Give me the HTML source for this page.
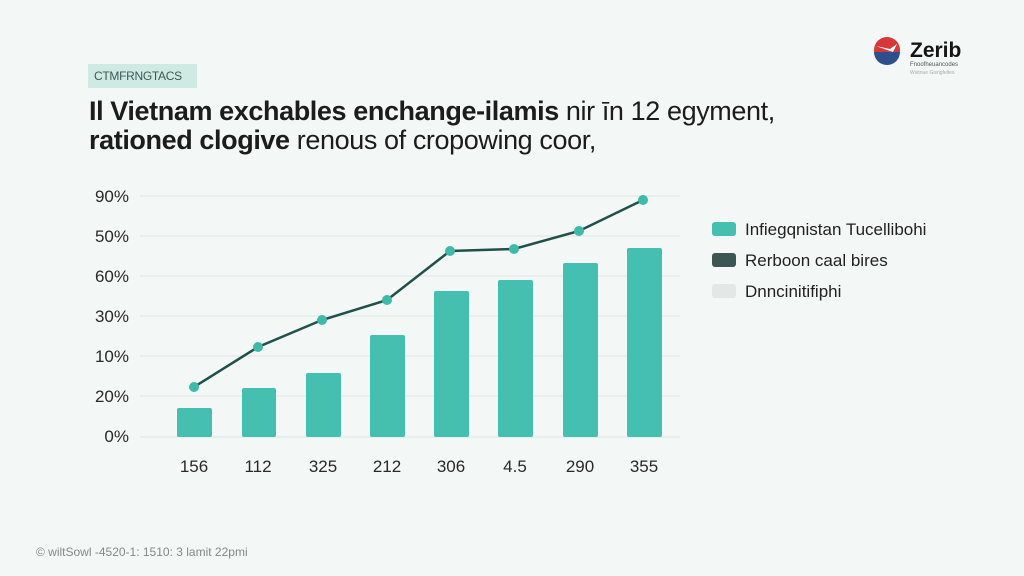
<!DOCTYPE html>
<html><head><meta charset="utf-8"><style>
body{margin:0;width:1024px;height:576px;overflow:hidden;background:#f3f7f6;font-family:"Liberation Sans",sans-serif;position:relative}
.a{position:absolute;white-space:nowrap}
</style></head><body>
<div class="a" style="left:88px;top:64px;width:109px;height:24px;background:#cfe9e3"></div>
<div class="a" style="left:94px;top:69px;font-size:12px;color:#3c5a55;letter-spacing:-0.3px">CTMFRNGTACS</div>
<div class="a" style="left:89px;top:96px;font-size:27px;color:#1c1c1c;letter-spacing:-0.4px"><b>Il Vietnam exchables enchange-ilamis</b> nir īn 12 egyment,</div>
<div class="a" style="left:89px;top:125px;font-size:27px;color:#1c1c1c;letter-spacing:-0.4px"><b>rationed clogive</b> renous of cropowing coor,</div>
<svg class="a" style="left:0;top:0" width="1024" height="576">
<circle cx="887" cy="50" r="13" fill="#d6383a"/>
<path d="M874,52 A13,13 0 0 0 900,52 Z" fill="#2f4e8c"/>
<path d="M876,46 L890,49 L897,44 L893,52 Z" fill="#fff"/>
<text x="910" y="57" font-size="21" font-weight="bold" fill="#151515" font-family="Liberation Sans">Zerib</text>
<text x="910" y="66" font-size="6" fill="#555" font-family="Liberation Sans">Fnoofheuancodes</text>
<text x="910" y="74" font-size="5" fill="#aaa" font-family="Liberation Sans">Wvitnue Gisngfeltes</text>
<g stroke="#e4ecea" stroke-width="1.5">
<line x1="140" y1="196" x2="680" y2="196"/><line x1="140" y1="236" x2="680" y2="236"/><line x1="140" y1="276" x2="680" y2="276"/><line x1="140" y1="316" x2="680" y2="316"/><line x1="140" y1="356" x2="680" y2="356"/><line x1="140" y1="396" x2="680" y2="396"/><line x1="140" y1="437" x2="680" y2="437"/>
</g>
<g font-size="17" fill="#2a2a2a" text-anchor="end" font-family="Liberation Sans">
<text x="129" y="202">90%</text><text x="129" y="242">50%</text><text x="129" y="282">60%</text><text x="129" y="322">30%</text><text x="129" y="362">10%</text><text x="129" y="402">20%</text><text x="129" y="442">0%</text>
</g>
<g fill="#45bfb0">
<rect x="177" y="408" width="35" height="29" rx="2"/><rect x="242" y="388" width="34" height="49" rx="2"/><rect x="306" y="373" width="35" height="64" rx="2"/><rect x="370" y="335" width="35" height="102" rx="2"/><rect x="434" y="291" width="35" height="146" rx="2"/><rect x="498" y="280" width="35" height="157" rx="2"/><rect x="563" y="263" width="35" height="174" rx="2"/><rect x="627" y="248" width="35" height="189" rx="2"/>
</g>
<polyline points="194,387 258,347 322,320 387,300 450,251 514,249 579,231 643,200" fill="none" stroke="#1f5149" stroke-width="2.5"/>
<g fill="#3fbaa9"><circle cx="194" cy="387" r="5"/><circle cx="258" cy="347" r="5"/><circle cx="322" cy="320" r="5"/><circle cx="387" cy="300" r="5"/><circle cx="450" cy="251" r="5"/><circle cx="514" cy="249" r="5"/><circle cx="579" cy="231" r="5"/><circle cx="643" cy="200" r="5"/></g>
<g font-size="17" fill="#2a2a2a" text-anchor="middle" font-family="Liberation Sans">
<text x="194" y="472">156</text><text x="258" y="472">112</text><text x="323" y="472">325</text><text x="387" y="472">212</text><text x="451" y="472">306</text><text x="515" y="472">4.5</text><text x="580" y="472">290</text><text x="644" y="472">355</text>
</g>
<rect x="712" y="222" width="24" height="14" rx="3" fill="#45bfb0"/>
<rect x="712" y="253" width="24" height="14" rx="3" fill="#3d5553"/>
<rect x="712" y="284" width="24" height="14" rx="3" fill="#e3e8e7"/>
<g font-size="17" fill="#222" font-family="Liberation Sans">
<text x="745" y="235">Infiegqnistan Tucellibohi</text><text x="745" y="266">Rerboon caal bires</text><text x="745" y="297">Dnncinitifiphi</text>
</g>
<text x="36" y="556" font-size="12" fill="#888" font-family="Liberation Sans">© wiltSowl -4520-1: 1510: 3 lamit 22pmi</text>
</svg>
</body></html>
